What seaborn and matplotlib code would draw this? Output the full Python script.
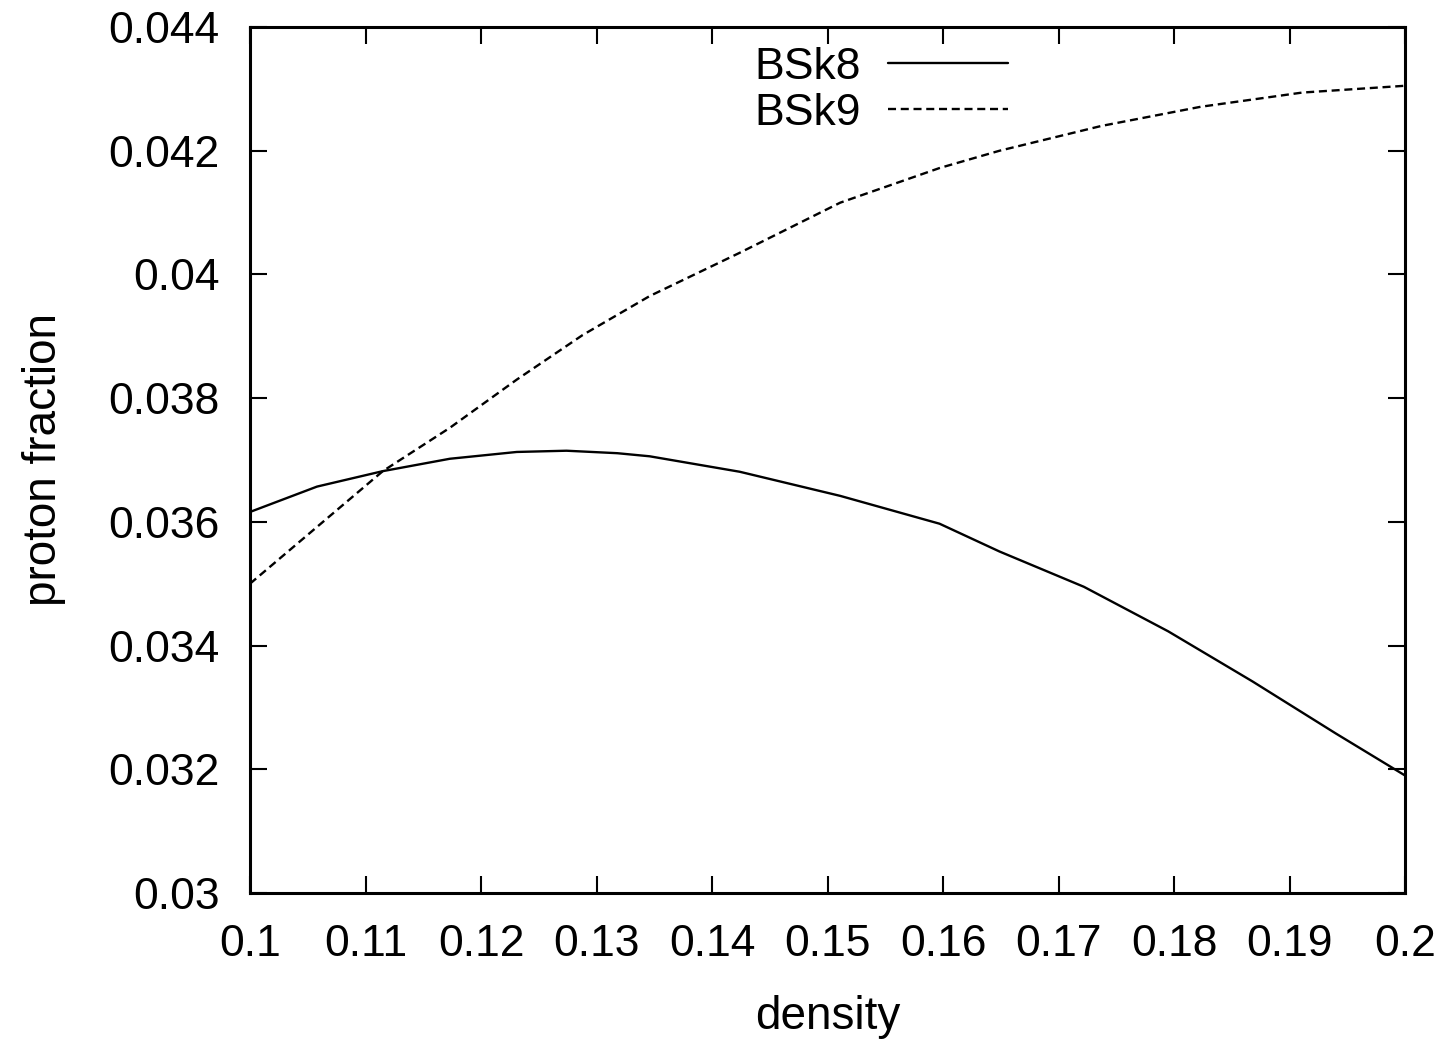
import numpy as np
import pandas as pd
import matplotlib
matplotlib.use("Agg")
import matplotlib.pyplot as plt
import seaborn as sns

# values
density8 = [0.100, 0.1058, 0.1115, 0.1173, 0.1231, 0.1274, 0.1318, 0.1346, 0.1424,
            0.1511, 0.1597, 0.1649, 0.1722, 0.1795, 0.1868, 0.1940, 0.200]
bsk8 = [0.03616, 0.03657, 0.03682, 0.03702, 0.03713, 0.03715, 0.03711, 0.03706, 0.03681,
        0.03642, 0.03597, 0.03552, 0.03495, 0.03423, 0.03342, 0.03258, 0.03190]
density9 = [0.100, 0.1115, 0.1173, 0.1231, 0.1288, 0.1346, 0.1424, 0.1511, 0.1597,
            0.1649, 0.1737, 0.1823, 0.1911, 0.200]
bsk9 = [0.03500, 0.03682, 0.03752, 0.03830, 0.03902, 0.03965, 0.04035, 0.04116, 0.04172,
        0.04200, 0.04240, 0.04271, 0.04294, 0.04305]

xticks = [0.1, 0.11, 0.12, 0.13, 0.14, 0.15, 0.16, 0.17, 0.18, 0.19, 0.2]
xticklabels = ["0.1", "0.11", "0.12", "0.13", "0.14", "0.15", "0.16", "0.17", "0.18", "0.19", "0.2"]
yticks = [0.03, 0.032, 0.034, 0.036, 0.038, 0.04, 0.042, 0.044]
yticklabels = ["0.03", "0.032", "0.034", "0.036", "0.038", "0.04", "0.042", "0.044"]

sns.set_style("ticks")
plt.rcParams['font.family'] = ['Liberation Sans', 'DejaVu Sans']
plt.rcParams['text.color'] = 'black'
plt.rcParams['axes.labelcolor'] = 'black'
plt.rcParams['xtick.color'] = 'black'
plt.rcParams['ytick.color'] = 'black'
plt.rcParams['axes.edgecolor'] = 'black'

df8 = pd.DataFrame({"density": density8, "pf": bsk8})
df9 = pd.DataFrame({"density": density9, "pf": bsk9})

fig = plt.figure(figsize=(14.54, 10.46), dpi=100)
ax = fig.add_axes([250 / 1454, 1 - 893 / 1046, (1405 - 250) / 1454, (893 - 27) / 1046])

sns.lineplot(data=df8, x="density", y="pf", ax=ax, color="black", lw=1.7, label="BSk8")
sns.lineplot(data=df9, x="density", y="pf", ax=ax, color="black", lw=1.7, label="BSk9")
ax.lines[1].set_linestyle((0, (3.4, 2.0)))

ax.set_xlim(0.1, 0.2)
ax.set_ylim(0.03, 0.044)
ax.set_xticks(xticks)
ax.set_xticklabels(xticklabels)
ax.set_yticks(yticks)
ax.set_yticklabels(yticklabels)
ax.tick_params(direction="in", length=12, width=1.5, labelsize=32,
               top=True, right=True)
ax.tick_params(axis="x", pad=22)
ax.tick_params(axis="y", pad=22)
for s in ax.spines.values():
    s.set_linewidth(2.2)

ax.set_xlabel("density", fontsize=33, labelpad=22)
ax.set_ylabel("proton fraction", fontsize=33, labelpad=30)

leg = ax.legend(loc="upper right", bbox_to_anchor=(0.672, 0.998), frameon=False,
                markerfirst=False, fontsize=32, handlelength=2.7,
                handletextpad=0.63, labelspacing=0.12, borderaxespad=0.0)

fig.savefig("out.png", dpi=100)
